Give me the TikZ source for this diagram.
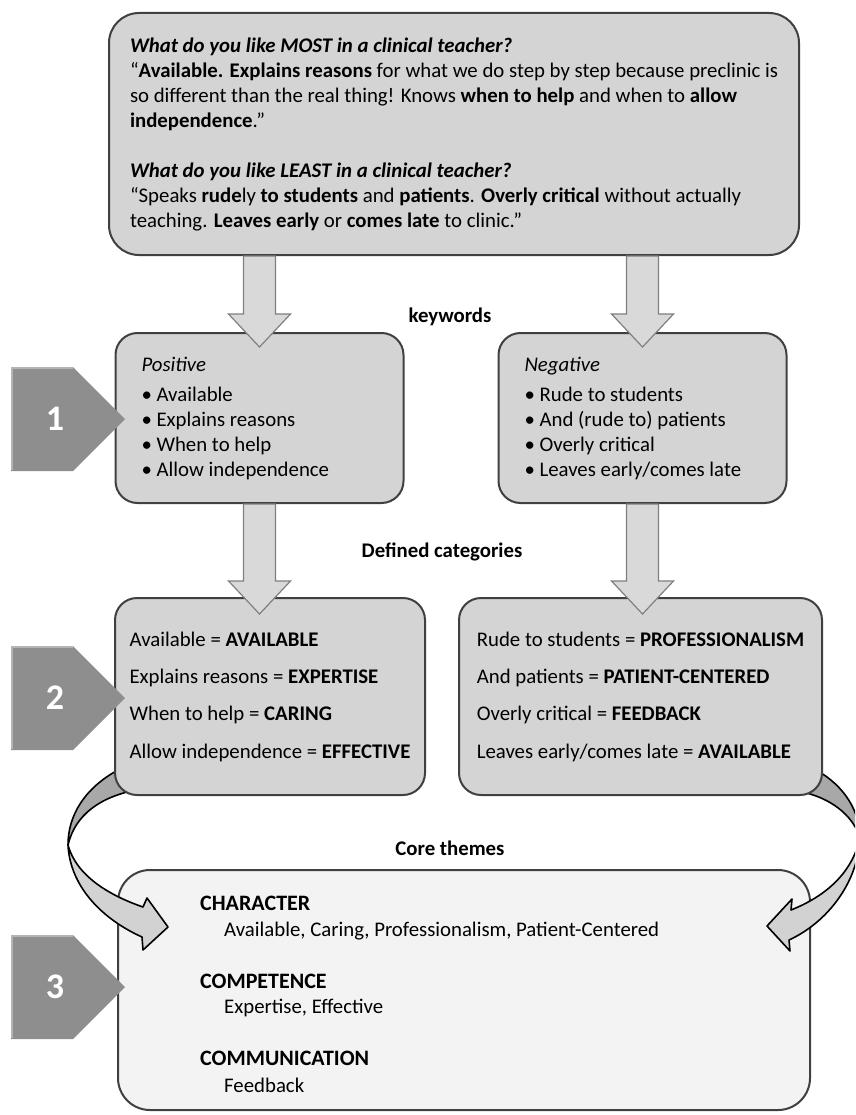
\documentclass[tikz,border=0pt]{standalone}
\usepackage{fontspec}
\setmainfont{Carlito}
\usetikzlibrary{positioning,calc}
\definecolor{boxfill}{HTML}{D4D4D4}
\definecolor{corefill}{HTML}{F3F3F3}
\definecolor{boxline}{HTML}{404040}
\definecolor{arrowfill}{HTML}{D9D9D9}
\definecolor{arrowline}{HTML}{7F7F7F}
\definecolor{stepfill}{HTML}{8E8E8E}
\definecolor{steplight}{HTML}{B4B4B4}
\definecolor{ribbondark}{HTML}{A8A8A8}
\definecolor{ribbonlight}{HTML}{D2D2D2}
\pgfdeclarelayer{front}
\pgfsetlayers{main,front}

\begin{document}
\begin{tikzpicture}[x=1pt,y=-1pt,
font=\fontsize{20.8}{25}\selectfont,
box/.style={draw=boxline,line width=2pt,fill=boxfill,rounded corners=22pt,inner sep=0pt},
keybox/.style={box,minimum width=288pt,minimum height=170pt,text width=236pt,align=left,
  execute at begin node={\spaceskip=0pt\xspaceskip=0pt\relax}},
catbox/.style={box,minimum height=197pt,align=left},
lbl/.style={font=\fontsize{20.8}{25}\selectfont\bfseries},
thead/.style={anchor=west,inner sep=0pt,font=\fontsize{22}{25}\selectfont\bfseries},
tlist/.style={anchor=west,inner sep=0pt},
stepnum/.style={text=white,font=\fontsize{36}{36}\selectfont\bfseries},
blockdown/.style={draw=arrowline,fill=arrowfill,line width=1.2pt,
  to path={let \p1=(\tikztostart), \p2=(\tikztotarget) in
  (\x1-16pt,\y1) -- (\x1-16pt,\y2+33pt) -- (\x1-31pt,\y2+33pt) -- (\x1,\y2)
  -- (\x1+31pt,\y2+33pt) -- (\x1+16pt,\y2+33pt) -- (\x1+16pt,\y1) -- cycle}},
ribbon/.style={draw=black,line width=1.6pt,line join=round}]
\useasboundingbox (0,0) rectangle (855,1115);
\clip (0,0) rectangle (855,1115);

% survey answers
\node[box,rounded corners=30pt,minimum width=690pt,minimum height=242pt,align=left] (quotes) at (454,134) {%
\textbf{\textit{What do you like MOST in a clinical teacher?}}\\
“\textbf{Available.} \textbf{Explains reasons} for what we do step by step because preclinic is\\
so different than the real thing! Knows \textbf{when to help} and when to \textbf{allow}\\
\textbf{independence}.”\\[25pt]
\textbf{\textit{What do you like LEAST in a clinical teacher?}}\\
“Speaks \textbf{rude}ly \textbf{to students} and \textbf{patients}. \textbf{Overly critical} without actually\\
teaching. \textbf{Leaves early} or \textbf{comes late} to clinic.”};

% keywords
\node[keybox] (posk) at (259.5,418) {\textit{Positive}\\[5pt]
• Available\\ • Explains reasons\\ • When to help\\ • Allow independence};
\node[keybox] (negk) [right=93pt of posk] {\textit{Negative}\\[5pt]
• Rude to students\\ • And (rude to) patients\\ • Overly critical\\ • Leaves early/comes late};
\node[lbl] (kwlabel) at (450,317) {keywords};

% categories
\begin{pgfonlayer}{front}
\node[catbox,minimum width=310pt] (poscat) at (270,696.5) {%
Available = \textbf{AVAILABLE}\\[12.3pt]
Explains reasons = \textbf{EXPERTISE}\\[12.3pt]
When to help = \textbf{CARING}\\[12.3pt]
Allow independence = \textbf{EFFECTIVE}};
\node[catbox,minimum width=363pt] (negcat) [right=32pt of poscat] {%
Rude to students = \textbf{PROFESSIONALISM}\\[12.3pt]
And patients = \textbf{PATIENT-CENTERED}\\[12.3pt]
Overly critical = \textbf{FEEDBACK}\\[12.3pt]
Leaves early/comes late = \textbf{AVAILABLE}};
\end{pgfonlayer}
\node[lbl] (catlabel) at (442,552) {Defined categories};

% themes
\node[box,fill=corefill,rounded corners=32pt,minimum width=692pt,minimum height=240pt] (corebox) at (464,990) {};
\node[lbl] (corelabel) at (450,848) {Core themes};
\node[thead] (charhead) at (200,903) {CHARACTER};
\node[tlist] (charlist) at (224,931) {Available, Caring, Professionalism, Patient-Centered};
\node[thead] (comphead) at (200,981) {COMPETENCE};
\node[tlist] (complist) at (224,1008) {Expertise, Effective};
\node[thead] (commhead) at (200,1058) {COMMUNICATION};
\node[tlist] (commlist) at (224,1085) {Feedback};

% twisted arrows into the themes
\coordinate (ltwist) at (68,845);
\coordinate (rtwist) at (860,838);
\filldraw[ribbon,fill=ribbondark] (118,770) .. controls (85,788) and (68,815) .. (ltwist)
  .. controls (75,815) and (100,797) .. (136,790) -- cycle;
\filldraw[ribbon,fill=ribbonlight] (ltwist) .. controls (70,885) and (100,918) .. (142,937)
  -- (143,950) -- (168,927) -- (147,898) -- (143,907)
  .. controls (108,895) and (76,875) .. (ltwist) -- cycle;
\filldraw[ribbon,fill=ribbondark] (816,770) .. controls (845,786) and (860,812) .. (rtwist)
  .. controls (853,815) and (830,797) .. (798,791) -- cycle;
\filldraw[ribbon,fill=ribbonlight] (rtwist) .. controls (858,882) and (828,922) .. (789,940)
  -- (790,951) -- (767,926) -- (792,899) -- (791,910)
  .. controls (826,896) and (852,873) .. (rtwist) -- cycle;

\begin{pgfonlayer}{front}
% block arrows
\draw[blockdown] (quotes.south -| posk.north) to ($(posk.north)+(0,15)$);
\draw[blockdown] (quotes.south -| negk.north) to ($(negk.north)+(0,15)$);
\draw[blockdown] (posk.south) to ($(posk.south |- poscat.north)+(0,17)$);
\draw[blockdown] (negk.south) to ($(negk.south |- negcat.north)+(0,17)$);

% steps
\foreach \n/\y in {1/419,2/698,3/987} {
  \fill[stepfill] (11,\y-52) -- (73,\y-52) -- (125,\y) -- (73,\y+52) -- (11,\y+52) -- cycle;
  \draw[steplight,line width=1.5pt] (12,\y+51) -- (12,\y-51) -- (73,\y-51);
  \node[stepnum] (step\n) at (55,\y) {\n};
}
\end{pgfonlayer}
\end{tikzpicture}
\end{document}
